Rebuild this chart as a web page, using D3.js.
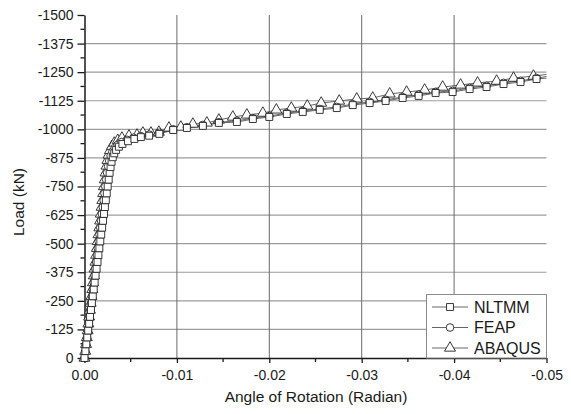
<!DOCTYPE html>
<html><head><meta charset="utf-8">
<script src="https://cdn.jsdelivr.net/npm/d3@7"></script>
<style>body{margin:0;background:#fff}svg{display:block;font-family:"Liberation Sans",Arial,sans-serif}</style>
</head><body><svg id="c" width="571" height="414"></svg>
<script>
// ---- data ----
const seriesNames = ["NLTMM", "FEAP", "ABAQUS"];
const yTicks = [0,-125,-250,-375,-500,-625,-750,-875,-1000,-1125,-1250,-1375,-1500];
const xTicks = [0,-0.01,-0.02,-0.03,-0.04,-0.05];

const nltmmRot = [0,-0.00010,-0.00020,-0.00030,-0.00040,-0.00050,-0.00060,-0.00070,-0.00080,-0.00090,-0.00100,-0.00110,-0.00120,-0.00131,-0.00141,-0.00151,-0.00161,-0.00171,-0.00181,-0.00191,-0.00201,-0.00211,-0.00221,-0.00231,-0.00241,-0.00251,-0.00262,-0.00272,-0.00282,-0.00293,-0.00306,-0.00322,-0.00342,-0.00372,-0.00410,-0.00470,-0.00540,-0.00610,-0.00700,-0.00810,-0.00960,-0.01108,-0.01281,-0.01454,-0.01649,-0.01822,-0.0200,-0.02189,-0.02362,-0.02546,-0.02730,-0.02903,-0.03086,-0.03259,-0.03443,-0.03616,-0.03800,-0.03984,-0.04168,-0.04351,-0.04535,-0.04719,-0.04892,-0.0500];
const nltmmLoad = [0,-30,-60,-90,-120,-150,-180,-210,-240,-270,-300,-330,-360,-390,-420,-450,-480,-510,-540,-570,-600,-630,-660,-690,-720,-750,-780,-810,-835,-858,-878,-895,-910,-924,-936,-948,-958,-966,-972,-980,-997,-1006,-1015,-1028,-1032,-1045,-1054,-1067,-1076,-1085,-1093,-1106,-1115,-1124,-1137,-1146,-1159,-1163,-1176,-1185,-1198,-1207,-1220,-1224];

const feapRot = [0,-0.00009,-0.00018,-0.00027,-0.00036,-0.00045,-0.00054,-0.00063,-0.00072,-0.00081,-0.00090,-0.00099,-0.00108,-0.00117,-0.00126,-0.00135,-0.00144,-0.00153,-0.00162,-0.00171,-0.00180,-0.00189,-0.00198,-0.00207,-0.00216,-0.00225,-0.00235,-0.00245,-0.00256,-0.00268,-0.00283,-0.00302,-0.00326,-0.00358,-0.00400,-0.00460,-0.00530,-0.00610,-0.00700,-0.00810,-0.00960,-0.01108,-0.01281,-0.01454,-0.01649,-0.01822,-0.0200,-0.02189,-0.02362,-0.02546,-0.02730,-0.02903,-0.03086,-0.03259,-0.03443,-0.03616,-0.03800,-0.03984,-0.04168,-0.04351,-0.04535,-0.04719,-0.04892,-0.0500];
const feapLoad = [0,-30,-60,-90,-120,-150,-180,-210,-240,-270,-300,-330,-360,-390,-420,-450,-480,-510,-540,-570,-600,-630,-660,-690,-720,-750,-780,-810,-838,-862,-884,-902,-918,-932,-944,-954,-963,-970,-977,-985,-1000,-1009,-1019,-1031,-1037,-1049,-1058,-1071,-1080,-1089,-1098,-1110,-1120,-1129,-1141,-1151,-1163,-1168,-1181,-1190,-1203,-1212,-1224,-1231];

const abaqusRot = [0,-0.00008,-0.00017,-0.00025,-0.00034,-0.00042,-0.00050,-0.00059,-0.00067,-0.00076,-0.00084,-0.00092,-0.00101,-0.00109,-0.00118,-0.00126,-0.00134,-0.00143,-0.00151,-0.00160,-0.00168,-0.00176,-0.00185,-0.00193,-0.00202,-0.00210,-0.00219,-0.00228,-0.00238,-0.00248,-0.00260,-0.00276,-0.00296,-0.00322,-0.00360,-0.00405,-0.00481,-0.00568,-0.00632,-0.00719,-0.00805,-0.00914,-0.01043,-0.01173,-0.01324,-0.01454,-0.01605,-0.01757,-0.0193,-0.02076,-0.02238,-0.02411,-0.02562,-0.02757,-0.02946,-0.03119,-0.03303,-0.03486,-0.03681,-0.03876,-0.0407,-0.04254,-0.0446,-0.04643,-0.04859,-0.0500];
const abaqusLoad = [0,-30,-60,-90,-120,-150,-180,-210,-240,-270,-300,-330,-360,-390,-420,-450,-480,-510,-540,-570,-600,-630,-660,-690,-720,-750,-780,-810,-840,-865,-888,-908,-925,-940,-952,-962,-971,-975,-984,-984,-988,-1006,-1010,-1023,-1028,-1041,-1054,-1063,-1071,-1085,-1093,-1102,-1115,-1124,-1133,-1137,-1155,-1163,-1172,-1185,-1194,-1203,-1211,-1224,-1233,-1240];

// ---- chart ----
const svg = d3.select("#c");
const x = d3.scaleLinear().domain([0,-0.05]).range([84.5,546.5]);
const y = d3.scaleLinear().domain([0,-1500]).range([358,15]);
const ink = "#1a1a1a";

// gridlines
svg.append("g").selectAll("line").data(yTicks.filter(d=>d!==0 && d!==-1500)).join("line")
  .attr("x1",x(0)).attr("x2",x(-0.05)).attr("y1",d=>y(d)).attr("y2",d=>y(d))
  .attr("stroke","#9c9c9c").attr("stroke-width",1.2);
svg.append("g").selectAll("line").data(xTicks.filter(d=>d!==0 && d!==-0.05)).join("line")
  .attr("x1",d=>x(d)).attr("x2",d=>x(d)).attr("y1",y(0)).attr("y2",y(-1500))
  .attr("stroke","#6a6a6a").attr("stroke-width",1);

// axes
const yAxis = d3.axisLeft(y).tickValues(yTicks).tickSize(7).tickSizeOuter(0).tickPadding(4)
  .tickFormat(d=>String(d));
const gy = svg.append("g").attr("transform",`translate(${x(0)},0)`).call(yAxis);
const xAxis = d3.axisBottom(x).tickValues(xTicks).tickSize(5).tickSizeOuter(0).tickPadding(7)
  .tickFormat(d=>d===0?"0.00":d.toFixed(2));
const gx = svg.append("g").attr("transform",`translate(0,${y(0)})`).call(xAxis);
[gx,gy].forEach(g=>{
  g.select(".domain").attr("stroke",ink).attr("stroke-width",1.5);
  g.selectAll(".tick line").attr("stroke",ink).attr("stroke-width",1.3);
  g.selectAll("text").attr("fill",ink).attr("font-size",14);
});
// minor ticks
const yMinor = yTicks.slice(0,-1).map(d=>d-62.5);
svg.append("g").selectAll("line").data(yMinor).join("line")
  .attr("x1",x(0)-4).attr("x2",x(0)).attr("y1",d=>y(d)).attr("y2",d=>y(d))
  .attr("stroke",ink).attr("stroke-width",1.3);
const xMinor = xTicks.slice(0,-1).map(d=>d-0.005);
svg.append("g").selectAll("line").data(xMinor).join("line")
  .attr("x1",d=>x(d)).attr("x2",d=>x(d)).attr("y1",y(0)).attr("y2",y(0)+4)
  .attr("stroke",ink).attr("stroke-width",1.3);

// axis titles
svg.append("text").attr("x",316).attr("y",402).attr("text-anchor","middle")
  .attr("font-size",15.5).attr("fill",ink).text("Angle of Rotation (Radian)");
svg.append("text").attr("transform","translate(24,202) rotate(-90)").attr("text-anchor","middle")
  .attr("font-size",15.5).attr("fill",ink).text("Load (kN)");

// series (draw order: ABAQUS, FEAP, NLTMM on top)
const series = [
  {name:"ABAQUS", rot:abaqusRot, load:abaqusLoad, sym:d3.symbolTriangle, size:52},
  {name:"FEAP", rot:feapRot, load:feapLoad, sym:d3.symbolCircle, size:46},
  {name:"NLTMM", rot:nltmmRot, load:nltmmLoad, sym:d3.symbolSquare, size:48}
];
const line = d3.line().x(d=>x(d[0])).y(d=>y(d[1]));
series.forEach(s=>{
  const pts = s.rot.map((r,i)=>[r,s.load[i]]);
  svg.append("path").datum(pts).attr("d",line).attr("fill","none")
    .attr("stroke","#555").attr("stroke-width",0.9);
});
series.forEach(s=>{
  const pts = s.rot.map((r,i)=>[r,s.load[i]]).slice(0,-1);
  svg.append("g").selectAll("path").data(pts).join("path")
    .attr("transform",d=>`translate(${x(d[0])},${y(d[1])})`)
    .attr("d",d3.symbol().type(s.sym).size(s.size)())
    .attr("fill","#fff").attr("stroke","#222").attr("stroke-width",0.9);
});

// legend
const lg = svg.append("g");
lg.append("rect").attr("x",426.5).attr("y",294.5).attr("width",120).attr("height",63.5)
  .attr("fill","#fff").attr("stroke","#8a8a8a").attr("stroke-width",1);
const legendItems = [
  {name:"NLTMM", sym:d3.symbolSquare, size:48},
  {name:"FEAP", sym:d3.symbolCircle, size:46},
  {name:"ABAQUS", sym:d3.symbolTriangle, size:52}
];
legendItems.forEach((it,i)=>{
  const cy = 307 + i*20.5;
  lg.append("line").attr("x1",432).attr("x2",468).attr("y1",cy).attr("y2",cy)
    .attr("stroke","#555").attr("stroke-width",0.9);
  lg.append("path").attr("transform",`translate(450,${cy})`)
    .attr("d",d3.symbol().type(it.sym).size(it.size)())
    .attr("fill","#fff").attr("stroke","#222").attr("stroke-width",0.9);
  lg.append("text").attr("x",474).attr("y",cy+5.5).attr("font-size",16).attr("fill",ink).text(it.name);
});
</script></body></html>
